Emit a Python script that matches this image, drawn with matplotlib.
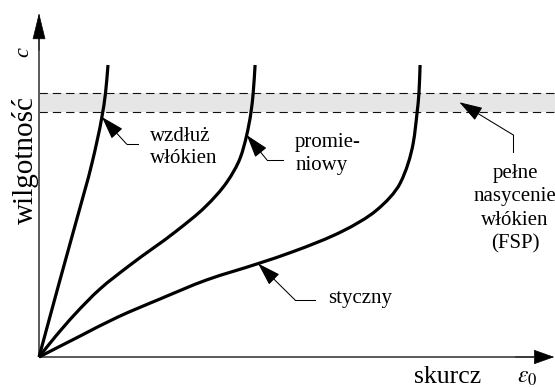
import numpy as np
import matplotlib
matplotlib.use("Agg")
import matplotlib.pyplot as plt
from matplotlib.path import Path
from matplotlib.patches import PathPatch

plt.rcParams['font.family'] = ['Liberation Serif', 'DejaVu Serif']
plt.rcParams['mathtext.fontset'] = 'stix'

# shrinkage (x) versus moisture content (y) along the three anatomical directions
wzdluz_x = [0, 5.5, 10.0, 13.9, 16.5, 17.45, 18.1]
wzdluz_y = [0, 26.4, 47.6, 66.4, 82.2, 90.4, 100]

promieniowy_x = [0, 4.2, 9.45, 16.0, 23.9, 36.1, 43.6, 49.3, 52.8, 54.5, 55.6, 56.2, 56.7]
promieniowy_y = [0, 6.85, 14.7, 23.3, 31.5, 43.2, 51.4, 59.9, 68.2, 76.0, 83.6, 90.4, 100]

styczny_x = [0, 10.8, 20.7, 31.8, 44.0, 57.5, 66.7, 79.8, 88.6, 94.8, 98.2, 99.2, 99.7, 100]
styczny_y = [0, 7.2, 13.7, 19.9, 26.4, 32.0, 36.1, 43.2, 50.3, 59.6, 73.3, 83.6, 90.4, 100]

# fibre saturation point band
fsp_low, fsp_high = 84.0, 90.5

fig = plt.figure(figsize=(5.55, 3.87), dpi=100)
ax = fig.add_axes([0, 0, 1, 1])
ax.set_xlim(-10.24, 135.4)
ax.set_ylim(-10.27, 122.26)
ax.axis('off')


def _pchip_slopes(t, v):
    h = np.diff(t)
    d = np.diff(v) / h
    m = np.zeros_like(v)
    for k in range(1, len(v) - 1):
        if d[k - 1] * d[k] > 0:
            w1 = 2 * h[k] + h[k - 1]
            w2 = h[k] + 2 * h[k - 1]
            m[k] = (w1 + w2) / (w1 / d[k - 1] + w2 / d[k])
    m[0] = d[0]
    m[-1] = d[-1]
    return m


def smooth_path(xs, ys):
    """Monotone cubic (Hermite) curve through the points, as Bezier segments."""
    sx, sy = 3.81, 2.92          # draw-space aspect of one data unit
    px = np.asarray(xs, float) * sx
    py = np.asarray(ys, float) * sy
    t = np.concatenate([[0], np.cumsum(np.hypot(np.diff(px), np.diff(py)))])
    mx = _pchip_slopes(t, px)
    my = _pchip_slopes(t, py)
    verts = [(px[0], py[0])]
    codes = [Path.MOVETO]
    for i in range(len(t) - 1):
        h = t[i + 1] - t[i]
        verts.append((px[i] + mx[i] * h / 3, py[i] + my[i] * h / 3))
        verts.append((px[i + 1] - mx[i + 1] * h / 3, py[i + 1] - my[i + 1] * h / 3))
        verts.append((px[i + 1], py[i + 1]))
        codes += [Path.CURVE4] * 3
    verts = np.array(verts) / [sx, sy]
    return Path(verts, codes)


# FSP band with dashed edges
ax.fill_between([0, 135.4], fsp_low, fsp_high, color='#e6e6e6', lw=0, zorder=1)
for yv in (fsp_low, fsp_high):
    ax.plot([0, 135.4], [yv, yv], color='#111111', lw=0.8,
            dashes=(7.5, 4.5), zorder=2)

# curves
for xs, ys in ((wzdluz_x, wzdluz_y), (promieniowy_x, promieniowy_y),
               (styczny_x, styczny_y)):
    ax.add_patch(PathPatch(smooth_path(xs, ys), fill=False, ec='black',
                           lw=2.3, capstyle='butt', joinstyle='round',
                           zorder=4))

# axes with arrow heads
axis_col = '#5a5a5a'
ax.plot([0, 0], [0, 110], color=axis_col, lw=1.4, zorder=3,
        solid_capstyle='butt')
ax.plot([0, 130], [0, 0], color=axis_col, lw=1.4, zorder=3,
        solid_capstyle='butt')
ax.annotate('', xy=(0, 117.8), xytext=(0, 105),
            arrowprops=dict(arrowstyle='-|>,head_length=17.5,head_width=4.3',
                            mutation_scale=1, color='black', lw=0.5,
                            shrinkA=0, shrinkB=0), zorder=5)
ax.annotate('', xy=(135.2, 0), xytext=(125, 0),
            arrowprops=dict(arrowstyle='-|>,head_length=13.5,head_width=4.8',
                            mutation_scale=1, color='black', lw=0.5,
                            shrinkA=0, shrinkB=0), zorder=5)

# axis labels
ax.text(-1.57, 67.5, 'wilgotność', rotation=90, rotation_mode='anchor',
        ha='center', va='baseline', fontsize=21)
ax.text(-2.9, 104.5, 'c', rotation=90, rotation_mode='anchor',
        ha='center', va='baseline', fontsize=16, style='italic')
ax.text(107.1, -8.9, 'skurcz', ha='center', va='baseline', fontsize=18.5)
ax.text(125.3, -8.9, r'$\varepsilon_{\mathit{0}}$', ha='left', va='baseline',
        fontsize=17)


def leader(tip, bend, end):
    ax.annotate('', xy=tip, xytext=bend,
                arrowprops=dict(arrowstyle='-|>,head_length=14.5,head_width=4.6',
                                mutation_scale=1, color='black', lw=0.75,
                                shrinkA=0, shrinkB=0), zorder=6)
    ax.plot([bend[0], end[0]], [bend[1], end[1]], color='black', lw=0.75,
            zorder=6)


leader((wzdluz_x[4], wzdluz_y[4]), (23.0, 72.9), (26.1, 72.9))
leader((promieniowy_x[9], promieniowy_y[9]), (59.8, 67.5), (64.1, 67.5))
leader((styczny_x[5], styczny_y[5]), (67.2, 19.5), (72.4, 19.5))
leader((110.3, (fsp_low + fsp_high) / 2), (124.5, 76.0), (124.5, 70.2))

fs = 15
ax.text(29.1, 73.9, 'wzdłuż', fontsize=fs, ha='left', va='baseline')
ax.text(29.1, 66.4, 'włókien', fontsize=fs, ha='left', va='baseline')
ax.text(67.2, 71.9, 'promie-', fontsize=fs, ha='left', va='baseline')
ax.text(67.2, 64.0, 'niowy', fontsize=fs, ha='left', va='baseline')
ax.text(75.9, 18.5, 'styczny', fontsize=fs, ha='left', va='baseline')
for yb, s in ((61.3, 'pełne'), (53.4, 'nasycenie'), (45.2, 'włókien'),
              (37.0, '(FSP)')):
    ax.text(124.9, yb, s, fontsize=fs, ha='center', va='baseline')

fig.savefig('out.png', dpi=100)
